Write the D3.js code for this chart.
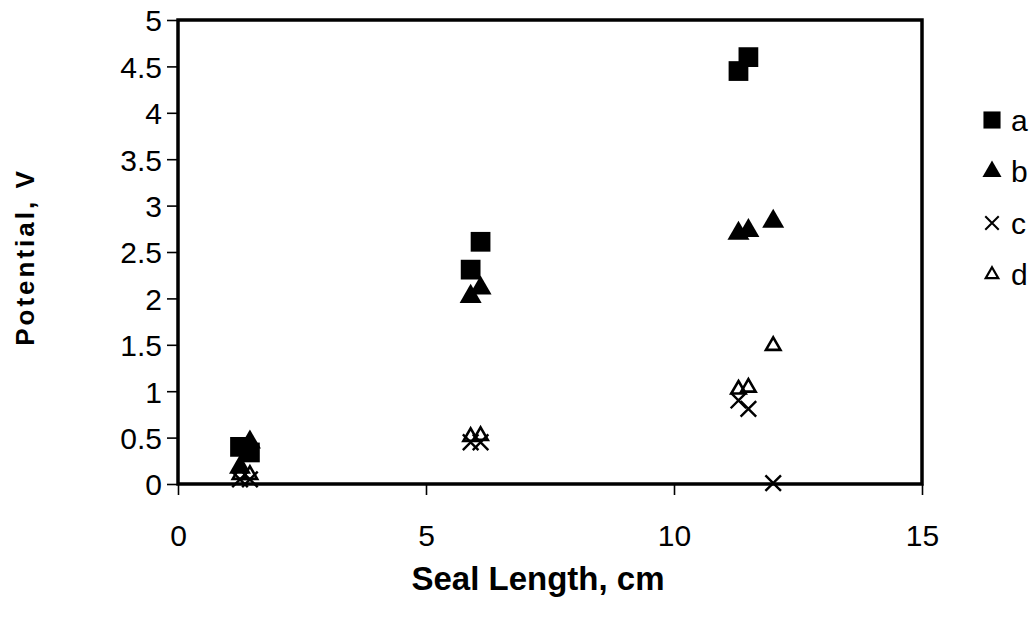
<!DOCTYPE html>
<html>
<head>
<meta charset="utf-8">
<script src="https://cdn.jsdelivr.net/npm/d3@7"></script>
<style>
  body { margin: 0; background: #fff; }
  svg { font-family: "Liberation Sans", Arial, sans-serif; }
</style>
</head>
<body>
<svg width="1034" height="621"></svg>
<script>
// series
const xA = [1.25, 1.45, 5.9, 6.1, 11.3, 11.5];
const yA = [0.40, 0.34, 2.31, 2.61, 4.45, 4.60];
const xB = [1.25, 1.45, 5.9, 6.1, 11.3, 11.5, 12.0];
const yB = [0.18, 0.45, 2.02, 2.11, 2.70, 2.73, 2.83];
const xC = [1.25, 1.45, 5.9, 6.1, 11.3, 11.5, 12.0];
const yC = [0.05, 0.05, 0.45, 0.45, 0.90, 0.81, 0.01];
const xD = [1.25, 1.45, 5.9, 6.1, 11.3, 11.5, 12.0];
const yD = [0.10, 0.10, 0.51, 0.52, 1.02, 1.04, 1.49];
const seriesNames = ['a', 'b', 'c', 'd'];
const xTicks = [0, 5, 10, 15];
const yTicks = d3.range(0, 5.01, 0.5);

const margin = { left: 178, top: 20, right: 112, bottom: 137 };
const w = 1034 - margin.left - margin.right;
const h = 621 - margin.top - margin.bottom;

const svg = d3.select('svg');
const g = svg.append('g').attr('transform', `translate(${margin.left},${margin.top})`);

const x = d3.scaleLinear().domain([0, 15]).range([0, w]);
const y = d3.scaleLinear().domain([0, 5]).range([h, 0]);

// axes
const xAxis = g.append('g')
  .attr('transform', `translate(0,${h})`)
  .call(d3.axisBottom(x).tickValues(xTicks).tickSize(11).tickPadding(30).tickFormat(d3.format('d')));
const yAxis = g.append('g')
  .call(d3.axisLeft(y).tickValues(yTicks).tickSize(11).tickPadding(5).tickFormat(d => d3.format('')(d)));

[xAxis, yAxis].forEach(a => {
  a.select('.domain').remove();
  a.selectAll('.tick line').attr('stroke', '#000').attr('stroke-width', 1.6);
  a.selectAll('.tick text')
    .attr('fill', '#000')
    .style('font-size', '30px')
    .style('font-family', '"Liberation Sans", Arial, sans-serif');
});
yAxis.selectAll('.tick text').attr('dy', '0.36em');

// plot frame
g.append('rect')
  .attr('x', 0).attr('y', 0)
  .attr('width', w).attr('height', h)
  .attr('fill', 'none')
  .attr('stroke', '#000')
  .attr('stroke-width', 3.5);

const symbols = {
  a: { type: d3.symbolSquare, size: 390, fill: '#000', stroke: 'none', sw: 0 },
  b: { type: d3.symbolTriangle, size: 210, fill: '#000', stroke: 'none', sw: 0 },
  c: { type: d3.symbolTimes, size: 160, fill: 'none', stroke: '#000', sw: 2.4 },
  d: { type: d3.symbolTriangle2, size: 150, fill: 'none', stroke: '#000', sw: 2.6 }
};
const data = {
  a: xA.map((v, i) => [v, yA[i]]),
  b: xB.map((v, i) => [v, yB[i]]),
  c: xC.map((v, i) => [v, yC[i]]),
  d: xD.map((v, i) => [v, yD[i]])
};

seriesNames.forEach(name => {
  const s = symbols[name];
  g.append('g').selectAll('path')
    .data(data[name])
    .enter()
    .append('path')
    .attr('transform', d => `translate(${x(d[0])},${y(d[1])})`)
    .attr('d', d3.symbol().type(s.type).size(s.size))
    .attr('fill', s.fill)
    .attr('stroke', s.stroke)
    .attr('stroke-width', s.sw);
});

// legend
const legend = svg.append('g').attr('transform', 'translate(992,120)');
seriesNames.forEach((name, i) => {
  const s = symbols[name];
  const item = legend.append('g').attr('transform', `translate(0,${i * 51.5})`);
  item.append('path')
    .attr('d', d3.symbol().type(s.type).size(s.size * 0.75))
    .attr('fill', s.fill)
    .attr('stroke', s.stroke)
    .attr('stroke-width', s.sw * 0.85);
  item.append('text')
    .attr('x', 19)
    .attr('dy', '0.36em')
    .style('font-size', '30px')
    .text(name);
});

// axis titles
svg.append('text')
  .attr('x', 538)
  .attr('y', 590)
  .attr('text-anchor', 'middle')
  .style('font-size', '33px')
  .style('font-weight', 'bold')
  .text('Seal Length, cm');

svg.append('text')
  .attr('transform', `translate(34,257) rotate(-90)`)
  .attr('text-anchor', 'middle')
  .style('font-size', '26px')
  .style('font-weight', 'bold')
  .style('letter-spacing', '3px')
  .text('Potential, V');
</script>
</body>
</html>
